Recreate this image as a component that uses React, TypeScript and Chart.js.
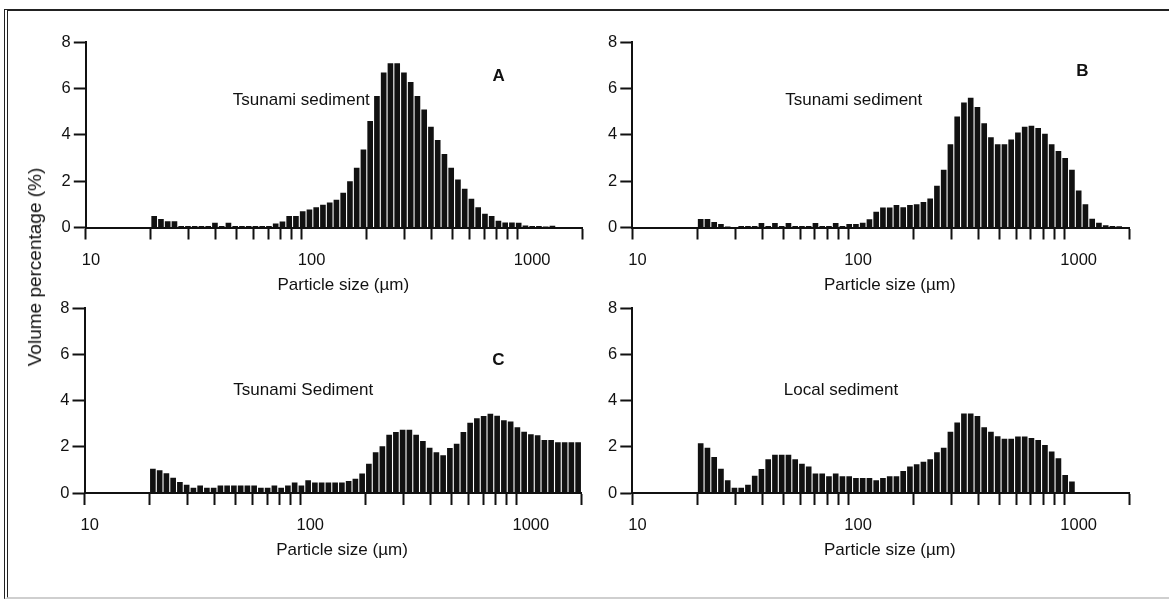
import React, { useEffect, useRef } from 'react';
import { Chart, registerables } from 'chart.js';

Chart.register(...registerables);

const FONT = '"Liberation Sans", Arial, Helvetica, sans-serif';
const INK = '#111111';

// Size classes (geometric centres of the bins, µm)
const particleSize = [
  20.73, 22.28, 23.94, 25.73, 27.65, 29.71, 31.93, 34.31, 36.87, 39.62, 42.58, 45.75, 49.17, 52.84, 56.78, 61.01,
  65.56, 70.46, 75.71, 81.37, 87.43, 93.95, 100.97, 108.5, 116.6, 125.29, 134.65, 144.67, 155.49, 167.09, 179.55, 192.93,
  207.3, 222.8, 239.4, 257.3, 276.5, 297.1, 319.3, 343.1, 368.7, 396.2, 425.8, 457.5, 491.7, 528.4, 567.8, 610.1,
  655.6, 704.6, 757.1, 813.7, 874.3, 939.5, 1009.7, 1085, 1166, 1252.9, 1346.5, 1446.7, 1554.9, 1670.9, 1795.5, 1929.3,
];

// Volume percentage per size class
const tsunamiA = [
  0.5, 0.37, 0.27, 0.27, 0.07, 0.07, 0.07, 0.07, 0.07, 0.2,
  0.07, 0.2, 0.07, 0.07, 0.07, 0.07, 0.07, 0.07, 0.17, 0.26,
  0.5, 0.5, 0.7, 0.78, 0.88, 0.98, 1.08, 1.2, 1.5, 2.0,
  2.58, 3.37, 4.6, 5.68, 6.7, 7.09, 7.09, 6.7, 6.28, 5.68,
  5.1, 4.35, 3.78, 3.17, 2.58, 2.07, 1.67, 1.24, 0.88, 0.59,
  0.5, 0.29, 0.22, 0.22, 0.2, 0.09, 0.06, 0.06, 0.04, 0.08,
  0, 0, 0, 0,
];
const tsunamiB = [
  0.37, 0.37, 0.24, 0.15, 0.04, 0.01, 0.06, 0.06, 0.06, 0.19,
  0.06, 0.19, 0.06, 0.19, 0.06, 0.06, 0.06, 0.19, 0.06, 0.06,
  0.19, 0.06, 0.15, 0.15, 0.2, 0.36, 0.68, 0.86, 0.86, 0.97,
  0.87, 0.97, 1.0, 1.1, 1.25, 1.8, 2.5, 3.6, 4.8, 5.4,
  5.6, 5.2, 4.5, 3.9, 3.6, 3.6, 3.8, 4.1, 4.35, 4.4,
  4.3, 4.05, 3.6, 3.3, 3.0, 2.5, 1.6, 1.0, 0.38, 0.2,
  0.1, 0.07, 0.05, 0,
];
const tsunamiC = [
  1.05, 0.98, 0.86, 0.66, 0.48, 0.36, 0.23, 0.33, 0.23, 0.23,
  0.33, 0.33, 0.33, 0.33, 0.33, 0.33, 0.23, 0.23, 0.33, 0.23,
  0.33, 0.45, 0.33, 0.55, 0.45, 0.45, 0.45, 0.45, 0.45, 0.52,
  0.62, 0.84, 1.27, 1.76, 2.02, 2.52, 2.64, 2.74, 2.74, 2.52,
  2.25, 1.96, 1.77, 1.63, 1.95, 2.13, 2.64, 3.04, 3.24, 3.34,
  3.43, 3.35, 3.15, 3.1, 2.85, 2.65, 2.55, 2.5, 2.3, 2.3,
  2.2, 2.2, 2.2, 2.2,
];
const localD = [
  2.16, 1.96, 1.56, 1.05, 0.55, 0.23, 0.23, 0.36, 0.75, 1.04,
  1.46, 1.66, 1.66, 1.66, 1.46, 1.27, 1.15, 0.85, 0.85, 0.73,
  0.85, 0.73, 0.73, 0.65, 0.65, 0.65, 0.55, 0.65, 0.73, 0.73,
  0.95, 1.15, 1.25, 1.35, 1.46, 1.76, 1.96, 2.65, 3.05, 3.44,
  3.44, 3.34, 2.85, 2.65, 2.46, 2.35, 2.35, 2.45, 2.45, 2.38,
  2.3, 2.08, 1.8, 1.5, 0.78, 0.5, 0.03, 0.03, 0.03, 0.03,
  0, 0, 0, 0,
];

const xTickValues = [10, 20, 30, 40, 50, 60, 70, 80, 90, 100, 200, 300, 400, 500, 600, 700, 800, 900, 1000, 2000];
const xTickLabels = [10, 100, 1000];
const X_MIN = 10;
const X_MAX = 2000;
const Y_MIN = 0;
const Y_MAX = 8;
const Y_STEP = 2;
const X_TITLE = 'Particle size (µm)';
const Y_TITLE = 'Volume percentage (%)';

type Note = { text: string; x: number; y: number; bold?: boolean };
type Area = { left: number; top: number; right: number; bottom: number };
type Panel = { key: string; values: number[]; area: Area; notes: Note[] };

const panels: Panel[] = [
  {
    key: 'A',
    values: tsunamiA,
    area: { left: 85.8, top: 42.3, right: 582.8, bottom: 227.5 },
    notes: [
      { text: 'Tsunami sediment', x: 99.5, y: 5.51 },
      { text: 'A', x: 816, y: 6.51, bold: true },
    ],
  },
  {
    key: 'B',
    values: tsunamiB,
    area: { left: 632.3, top: 42.3, right: 1129.3, bottom: 227.5 },
    notes: [
      { text: 'Tsunami sediment', x: 106, y: 5.51 },
      { text: 'B', x: 1213, y: 6.73, bold: true },
    ],
  },
  {
    key: 'C',
    values: tsunamiC,
    area: { left: 84.5, top: 308.3, right: 581.5, bottom: 493 },
    notes: [
      { text: 'Tsunami Sediment', x: 103, y: 4.45 },
      { text: 'C', x: 825, y: 5.75, bold: true },
    ],
  },
  {
    key: 'D',
    values: localD,
    area: { left: 632.3, top: 308.3, right: 1129.3, bottom: 493 },
    notes: [{ text: 'Local sediment', x: 92.5, y: 4.45 }],
  },
];

const notePlugin = {
  id: 'panelNotes',
  afterDatasetsDraw(chart: any, _args: any, opts: any) {
    const { ctx, scales, chartArea } = chart;
    const items: Note[] = opts.items || [];
    ctx.save();
    ctx.fillStyle = INK;
    ctx.textAlign = 'center';
    ctx.textBaseline = 'middle';
    for (const n of items) {
      ctx.font = `${n.bold ? 'bold ' : ''}17px ${FONT}`;
      ctx.fillText(n.text, scales.x.getPixelForValue(n.x), scales.y.getPixelForValue(n.y));
    }
    // x-axis title, centred slightly right of the axis middle as in the source figure
    ctx.font = `17px ${FONT}`;
    ctx.fillText(opts.xTitle, (chartArea.left + chartArea.right) / 2 + 9, chartArea.bottom + 57.5);
    ctx.restore();
  },
};

function PanelChart({ panel }: { panel: Panel }) {
  const ref = useRef<HTMLCanvasElement>(null);
  const { left, top, right, bottom } = panel.area;
  const cx = Math.floor(left - 62);
  const cy = Math.floor(top - 30);
  const cw = Math.ceil(right + 22 - cx);
  const ch = Math.ceil(bottom + 72 - cy);

  useEffect(() => {
    const yW = left - cx;
    const padTop = top - cy;
    const padRight = cx + cw - right;
    const xH = cy + ch - bottom;

    const chart = new Chart(ref.current as HTMLCanvasElement, {
      type: 'bar',
      data: {
        datasets: [
          {
            data: particleSize.map((s, i) => ({ x: s, y: panel.values[i] })),
            backgroundColor: INK,
            borderWidth: 0,
            categoryPercentage: 1,
            barPercentage: 0.84,
          } as any,
        ],
      },
      options: {
        responsive: false,
        animation: false,
        devicePixelRatio: 1,
        events: [],
        layout: { padding: { top: padTop, right: padRight, bottom: 0, left: 0 } },
        plugins: {
          legend: { display: false },
          tooltip: { enabled: false },
          panelNotes: { items: panel.notes, xTitle: X_TITLE },
        } as any,
        scales: {
          x: {
            type: 'logarithmic',
            min: X_MIN,
            max: X_MAX,
            offset: false,
            afterBuildTicks: (s: any) => {
              s.ticks = xTickValues.map((v) => ({ value: v, major: false }));
            },
            afterFit: (s: any) => {
              s.height = xH;
            },
            ticks: {
              autoSkip: false,
              maxRotation: 0,
              minRotation: 0,
              align: 'start',
              labelOffset: -4,
              padding: 11,
              color: INK,
              font: { family: FONT, size: 16.5 },
              callback: (v: any) => (xTickLabels.includes(Number(v)) ? String(v) : ''),
            },
            grid: {
              display: true,
              offset: false,
              drawOnChartArea: false,
              drawTicks: true,
              tickLength: 12,
              tickWidth: 2,
              tickColor: INK,
            },
            border: { display: true, color: INK, width: 2 },
            title: { display: false, text: X_TITLE },
          } as any,
          y: {
            min: Y_MIN,
            max: Y_MAX,
            afterFit: (s: any) => {
              s.width = yW;
            },
            ticks: {
              stepSize: Y_STEP,
              padding: 3,
              color: INK,
              font: { family: FONT, size: 16.5 },
            },
            grid: {
              display: true,
              drawOnChartArea: false,
              drawTicks: true,
              tickLength: 12,
              tickWidth: 2,
              tickColor: INK,
            },
            border: { display: true, color: INK, width: 2 },
          } as any,
        },
      },
      plugins: [notePlugin as any],
    });
    return () => chart.destroy();
  }, []);

  return (
    <canvas
      ref={ref}
      width={cw}
      height={ch}
      style={{ position: 'absolute', left: cx, top: cy, width: cw, height: ch, display: 'block' }}
    />
  );
}

export default function App() {
  return (
    <div
      style={{
        position: 'fixed',
        left: 0,
        top: 0,
        width: 1169,
        height: 599,
        background: '#fff',
        overflow: 'hidden',
      }}
    >
      <div
        style={{
          position: 'absolute',
          left: 4,
          top: 9,
          width: 1180,
          height: 586,
          borderTop: '2px solid #222',
          borderLeft: '4px double #222',
          borderBottom: '2px solid #cfcfcf',
        }}
      />
      {panels.map((p) => (
        <PanelChart key={p.key} panel={p} />
      ))}
      <div
        style={{
          position: 'absolute',
          left: 35,
          top: 267,
          transform: 'translate(-50%, -50%) rotate(-90deg)',
          whiteSpace: 'nowrap',
          fontFamily: FONT,
          fontSize: 19,
          color: INK,
        }}
      >
        {Y_TITLE}
      </div>
    </div>
  );
}
